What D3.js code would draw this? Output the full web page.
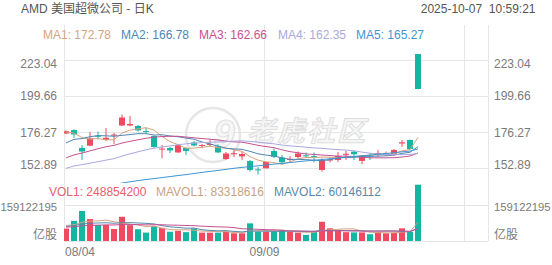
<!DOCTYPE html>
<html><head><meta charset="utf-8">
<script src="https://cdn.jsdelivr.net/npm/d3@7"></script>
<style>
html,body{margin:0;padding:0;background:#fff;}
svg{display:block;font-family:"Liberation Sans",Arial,"Noto Sans CJK SC",sans-serif;}
</style>
</head><body>
<svg id="c" width="552" height="265"></svg>
<script>
// ---------- data ----------
const dates=["08/04","08/05","08/06","08/07","08/08","08/11","08/12","08/13","08/14","08/15","08/18","08/19","08/20","08/21","08/22","08/25","08/26","08/27","08/28","08/29","09/02","09/03","09/04","09/05","09/08","09/09","09/10","09/11","09/12","09/15","09/16","09/17","09/18","09/19","09/22","09/23","09/24","09/25","09/26","09/29","09/30","10/01","10/02","10/03","10/06"];
const open =[175.3,177.5,165.9,167.4,174.0,171.1,173.9,180.5,180.5,180.2,176.9,173.7,165.0,165.9,163.0,165.9,169.5,167.4,168.0,166.9,158.7,162.0,160.4,157.4,152.0,152.7,163.9,159.6,158.1,160.0,161.1,160.6,151.6,157.8,158.1,161.7,163.5,157.5,160.9,162.1,162.3,161.8,168.8,171.1,226.9];
const high =[177.3,177.9,167.8,176.3,176.5,178.9,175.6,187.6,186.7,180.8,178.9,174.0,167.8,166.5,168.2,166.5,170.4,168.5,171.5,168.2,163.3,165.0,163.6,158.1,153.4,157.1,165.6,161.3,160.6,163.6,163.0,163.0,159.2,159.7,163.3,164.0,164.0,161.3,162.4,164.6,163.6,165.2,171.1,171.3,226.9];
const low  =[174.8,172.5,158.1,167.0,171.5,170.4,168.5,180.2,180.0,176.6,175.5,166.2,159.2,162.6,162.6,161.3,166.9,165.7,166.7,162.6,158.1,160.0,158.1,150.6,148.6,152.6,159.4,155.3,156.8,159.4,159.4,156.6,150.5,156.5,156.8,158.1,158.1,155.3,158.1,160.2,160.8,161.3,166.7,164.9,204.0];
const close=[176.8,174.7,163.6,172.1,173.2,172.5,174.6,185.7,181.5,177.3,176.3,166.5,165.5,164.3,167.8,163.9,167.5,167.8,168.5,163.0,162.3,162.5,162.0,151.6,151.4,156.8,160.2,156.6,158.8,162.3,160.6,160.0,158.1,158.4,160.7,162.1,161.8,160.9,160.4,162.6,162.6,164.6,169.6,165.2,204.2];
// volume in millions of shares
const volume=[55,89,133,97,71,71,53,107,70,52,37,65,58,41,45,39,56,37,37,37,41,34,34,78,41,41,41,46,41,37,27,41,85,56,49,39,38,38,30,40,34,37,56,41,248.8542];
const ma1=[176.3,175.7,172.6,171.7,172.0,171.2,171.2,175.6,177.5,178.3,179.1,177.5,173.4,170.0,168.1,165.6,165.8,166.3,167.1,166.1,165.8,164.8,163.7,160.3,158.0,156.9,156.4,155.3,156.8,158.9,159.7,159.7,160.0,159.9,159.6,159.9,160.2,160.8,161.2,161.6,161.7,162.2,164.0,164.9,172.78];
const ma2=[169.2,171.5,172.0,173.2,173.9,173.8,173.5,174.1,174.6,175.2,175.2,174.3,174.5,173.7,173.2,172.3,171.6,169.8,168.5,167.1,165.7,165.3,165.0,163.7,162.1,161.3,160.6,159.5,158.5,158.5,158.3,158.0,157.6,158.3,159.3,159.8,159.9,160.4,160.5,160.6,160.8,161.2,162.4,163.1,166.78];
const ma3=[159.5,161.4,162.6,164.0,165.4,166.7,167.6,169.1,170.2,171.2,172.2,172.9,173.3,173.5,173.5,173.0,172.5,172.0,171.6,171.1,170.4,169.8,169.7,168.7,167.6,166.8,166.1,164.7,163.5,162.8,162.0,161.7,161.3,161.0,160.6,160.6,160.3,159.9,159.5,159.5,159.5,159.6,160.0,160.7,162.66];
const ma4=[152.7,154.2,155.1,156.0,157.0,158.0,159.0,160.6,162.1,163.4,164.7,165.7,166.6,167.2,168.0,168.6,169.0,169.4,169.6,169.8,170.0,170.4,170.5,170.2,169.7,169.1,168.6,167.8,167.2,166.9,166.4,165.9,165.7,165.2,164.8,164.5,164.1,163.2,162.5,162.0,161.6,161.5,161.7,161.7,162.35];
const ma5=[137.6,138.5,139.1,139.9,140.7,141.5,142.2,143.1,143.9,144.7,145.4,146.0,146.7,147.3,148.0,148.6,149.3,150.0,150.7,151.3,152.0,152.7,153.3,153.8,154.3,154.8,155.4,155.9,156.4,157.0,157.5,157.9,158.4,158.9,159.4,159.9,160.4,160.8,161.3,161.8,162.3,162.8,163.4,163.9,165.27];
const mavol1=[69,71.8,82.4,87.8,89,92.2,85,79.8,74.4,70.6,63.8,66.2,56.4,50.6,49.2,49.6,47.8,43.6,42.8,41.2,41.6,37.2,36.6,44.8,45.6,45.6,47,49.4,42,41.2,38.4,38.4,46.2,49.2,51.6,54,53.4,44,38.8,37,36,35.8,39.4,41.6,83.318616];
const mavol2=[64.5,67.9,75.2,78.4,79.7,80.6,78.4,81.1,81.1,79.8,78.0,75.6,68.1,62.5,59.9,56.7,57.0,50.0,46.7,45.2,45.6,42.5,40.1,43.8,43.4,43.6,42.1,43.0,43.4,43.4,42.0,42.7,47.8,45.6,46.4,46.2,45.9,45.1,44.0,44.3,45.0,44.6,41.7,40.2,60.146112];
const mavol3=[61.3,63.2,67.1,69.0,69.9,71.1,70.8,73.1,73.1,72.4,71.3,71.8,71.7,70.5,69.8,68.7,67.7,65.6,63.9,62.5,61.8,59.1,54.1,53.2,51.7,50.2,49.6,46.5,45.1,44.3,43.8,42.6,44.0,44.7,44.9,44.9,44.0,44.1,43.7,43.9,43.5,43.7,44.8,42.9,53.3];
const priceTicks=[223.04,199.66,176.27,152.89];
const priceTickLabels=["223.04","199.66","176.27","152.89"];
const volTicks=[159.122195];
const volTickLabels=["159122195"];
const volUnitLabel="亿股";
const xTickLabels=["08/04","09/09"];
const title="AMD 美国超微公司 - 日K";
const stamp="2025-10-07  10:59:21";
const maLegend=[["MA1",172.78],["MA2",166.78],["MA3",162.66],["MA4",162.35],["MA5",165.27]];
const volLegend=[["VOL1","248854200"],["MAVOL1","83318616"],["MAVOL2","60146112"]];

// ---------- style ----------
const UP="#f04a61", DOWN="#14b5a1";
const maColors=["#d6a47f","#4f87b3","#c75190","#aaa8e0","#3f96d2"];
const volColors=["#e8606e","#c9a285","#5a89ad"];
const mavolColors=["#d2a585","#5a89ad","#c75190"];
const GRID="#e6e6e6", AX="#7a7a7a";

const svg=d3.select("#c");
const L=64,R=488,PT=25,PB=183,VT=184,VB=241;
const n=dates.length;
const x=d3.scaleBand().domain(dates).range([62,62+8*n]).paddingInner(0.25).paddingOuter(0.125);
const bw=x.bandwidth();
const cx=d=>x(d)+bw/2;
const y=d3.scaleLinear().domain([priceTicks[3],priceTicks[0]]).range([168,60]);
const yv=d3.scaleLinear().domain([0,volTicks[0]]).range([VB,205]);

const defs=svg.append("defs");
defs.append("clipPath").attr("id","cp").append("rect").attr("x",L).attr("y",PT).attr("width",R-L).attr("height",PB-PT);
defs.append("clipPath").attr("id","cv").append("rect").attr("x",L).attr("y",VT).attr("width",R-L).attr("height",VB-VT);

// grid
const g=svg.append("g").attr("stroke",GRID).attr("stroke-width",1).attr("shape-rendering","crispEdges");
priceTicks.forEach(t=>g.append("line").attr("x1",L).attr("x2",R).attr("y1",Math.round(y(t))+0.5).attr("y2",Math.round(y(t))+0.5));
volTicks.forEach(t=>g.append("line").attr("x1",L).attr("x2",R).attr("y1",Math.round(yv(t))+0.5).attr("y2",Math.round(yv(t))+0.5));
g.append("line").attr("x1",L).attr("x2",R).attr("y1",VB+0.5).attr("y2",VB+0.5);
[L,R].forEach(v=>g.append("line").attr("x1",v+0.5).attr("x2",v+0.5).attr("y1",PT).attr("y2",VB));
const step=x.step();
[25,50].forEach(k=>{const xx=Math.round(cx(dates[0])+k*step-2)+0.5;
  g.append("line").attr("x1",xx).attr("x2",xx).attr("y1",PT).attr("y2",VB);});

// watermark
const wm=svg.append("g").attr("opacity",0.9);
wm.append("circle").attr("cx",213).attr("cy",135).attr("r",27).attr("fill","none").attr("stroke","#e4e4e4").attr("stroke-width",2.5);
wm.append("text").attr("x",224).attr("y",147).attr("text-anchor","middle").attr("font-size",38).attr("font-style","italic").attr("font-weight","bold")
  .attr("fill","#f6f6f6").attr("stroke","#dedede").attr("stroke-width",1.2).text("9");
wm.append("text").attr("x",247).attr("y",141).attr("font-size",28).attr("font-weight","bold").attr("font-style","italic")
  .attr("letter-spacing",2).attr("fill","#f5f5f5").attr("stroke","#dcdcdc").attr("stroke-width",1).text("老虎社区");

// candles
const cg=svg.append("g").attr("clip-path","url(#cp)");
dates.forEach((d,i)=>{
  const up=close[i]>=open[i], col=up?UP:DOWN;
  cg.append("rect").attr("x",cx(d)-0.5).attr("width",1).attr("y",y(high[i])).attr("height",Math.max(1,y(low[i])-y(high[i]))).attr("fill",col);
  const t=y(Math.max(open[i],close[i])), b=y(Math.min(open[i],close[i]));
  cg.append("rect").attr("x",x(d)).attr("width",bw).attr("y",t).attr("height",Math.max(1,b-t)).attr("fill",col);
});
// MA lines
const line=d3.line().x((v,i)=>cx(dates[i])).y(v=>y(v));
[ma1,ma2,ma3,ma4,ma5].forEach((arr,k)=>cg.append("path").attr("d",line(arr)).attr("fill","none").attr("stroke",maColors[k]).attr("stroke-width",1));

// volume
const vg=svg.append("g").attr("clip-path","url(#cv)");
dates.forEach((d,i)=>{
  const col=close[i]>=open[i]?UP:DOWN;
  vg.append("rect").attr("x",x(d)).attr("width",bw).attr("y",yv(volume[i])).attr("height",VB-yv(volume[i])).attr("fill",col);
});
const vline=d3.line().x((v,i)=>cx(dates[i])).y(v=>yv(v));
[mavol1,mavol2,mavol3].forEach((arr,k)=>vg.append("path").attr("d",vline(arr)).attr("fill","none").attr("stroke",mavolColors[k]).attr("stroke-width",1));

// texts
const T=svg.append("g").attr("font-size",12);
T.append("text").attr("x",21).attr("y",13).attr("fill","#555").text(title);
T.append("text").attr("x",535.5).attr("y",13).attr("text-anchor","end").attr("fill","#555").attr("xml:space","preserve").style("white-space","pre").text(stamp);
const maX=[43,121,199,278,356];
maLegend.forEach((m,k)=>T.append("text").attr("x",maX[k]).attr("y",38.5).attr("fill",maColors[k]).text(m[0]+": "+m[1].toFixed(2)));
const vX=[49,156,274];
volLegend.forEach((m,k)=>T.append("text").attr("x",vX[k]).attr("y",196).attr("fill",volColors[k]).text(m[0]+": "+m[1]));
// price axis labels (edge labels kept inside pane)
const off=[8,4,4.5,0.5];
priceTicks.forEach((t,k)=>{
  T.append("text").attr("x",57).attr("y",y(t)+off[k]).attr("text-anchor","end").attr("fill",AX).text(priceTickLabels[k]);
  T.append("text").attr("x",494).attr("y",y(t)+off[k]).attr("fill",AX).text(priceTickLabels[k]);
});
volTicks.forEach((t,k)=>{
  T.append("text").attr("x",57).attr("y",yv(t)+5.5).attr("text-anchor","end").attr("fill",AX).attr("font-size",11.3).text(volTickLabels[k]);
  T.append("text").attr("x",494).attr("y",yv(t)+5.5).attr("fill",AX).attr("font-size",11.3).text(volTickLabels[k]);
});
T.append("text").attr("x",57).attr("y",VB-2).attr("text-anchor","end").attr("fill",AX).text(volUnitLabel);
T.append("text").attr("x",494).attr("y",VB-2).attr("fill",AX).text(volUnitLabel);
xTickLabels.forEach((lab,k)=>{
  const xx=cx(lab);
  if(k===0) T.append("text").attr("x",L+1).attr("y",255.5).attr("fill",AX).text(lab);
  else T.append("text").attr("x",xx-1.5).attr("y",255.5).attr("text-anchor","middle").attr("fill",AX).text(lab);
});
</script>
</body></html>
